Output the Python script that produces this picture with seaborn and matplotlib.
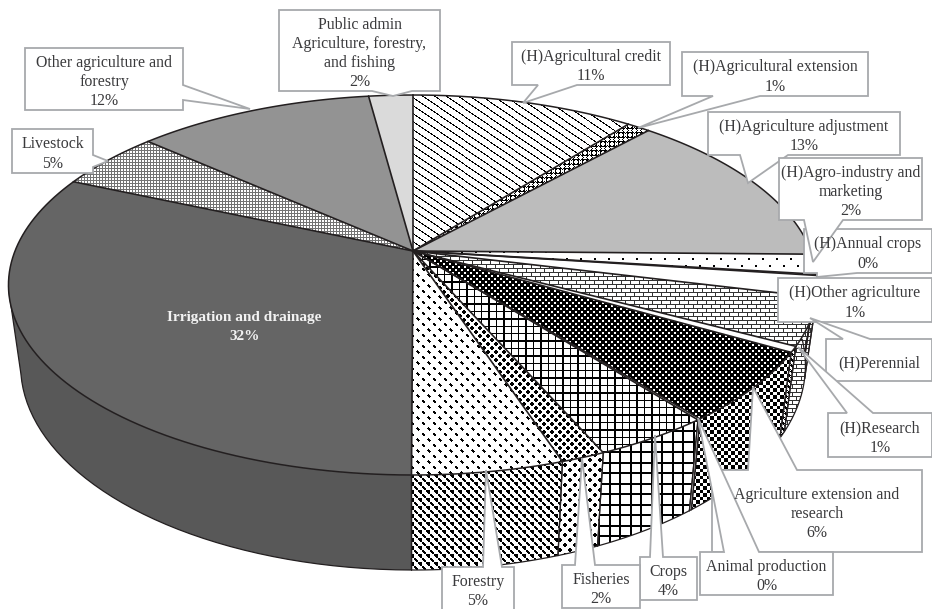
import numpy as np
import matplotlib
matplotlib.use('Agg')
import matplotlib.pyplot as plt
from matplotlib.patches import Polygon
import seaborn as sns

# data, share of the circle, clockwise from 12 o'clock
names = ['(H)Agricultural credit', '(H)Agricultural extension', '(H)Agriculture adjustment',
         '(H)Agro-industry and\nmarketing', '(H)Annual crops', '(H)Other agriculture',
         '(H)Perennial', '(H)Research', 'Agriculture extension and\nresearch',
         'Animal production', 'Crops', 'Fisheries', 'Forestry', 'Irrigation and drainage',
         'Livestock', 'Other agriculture and\nforestry',
         'Public admin\nAgriculture, forestry,\nand fishing']
shares = [10.6, 1.1, 13.6, 1.7, 0.1, 1.8, 4.0, 0.5, 6.0, 0.1, 4.0, 1.5, 5.1, 31.6, 5.0, 11.3, 2.1]
pct_labels = ['11%', '1%', '13%', '2%', '0%', '1%', '', '1%', '6%', '0%', '4%', '2%', '5%',
              '32%', '5%', '12%', '2%']

W, H = 932, 609
sns.set_theme(style='white')
plt.rcParams['font.family'] = ['Liberation Serif', 'DejaVu Serif']

# pixel grid for the fill patterns
yy, xx = np.mgrid[0:H, 0:W]
xx = xx + 0.5
yy = yy + 0.5


def lattice(px, py):
    dx1 = xx % px - px / 2
    dy1 = yy % py - py / 2
    dx2 = (xx + px / 2) % px - px / 2
    dy2 = (yy + py / 2) % py - py / 2
    return dx1, dy1, dx2, dy2


def dots(px, py, r):
    a, b, c, d = lattice(px, py)
    return 1.0 - ((np.hypot(a, b) < r) | (np.hypot(c, d) < r))


def rings(px, py, r):
    a, b, c, d = lattice(px, py)
    d1, d2 = np.hypot(a, b), np.hypot(c, d)
    return 1.0 - ((np.abs(d1 - r) < 0.5) | (np.abs(d2 - r) < 0.5))


def dashes(px, py, half, both=False):
    a, b, c, d = lattice(px, py)
    m = ((np.abs(a - b) < 1.1) & (np.abs(a + b) < half)) | ((np.abs(c - d) < 1.1) & (np.abs(c + d) < half))
    if both:
        m = m | ((np.abs(a + b) < 1.1) & (np.abs(a - b) < half) & (a > 0))
    return 1.0 - m


def grid(p, lw):
    return 1.0 - ((xx % p < lw) | (yy % p < lw))


def checker(p):
    return 1.0 - (((xx // p + yy // p) % 2) == 0)


def diagonal(slope, p, lw):
    return 1.0 - (((yy - slope * xx) % p) < lw)


def bricks(h, w):
    row = (yy // h) % 2
    v = (xx + row * w / 2) % w < 1
    return np.where((yy % h < 1) | v, 0.2, 1.0)


def solid(g):
    return np.full((H, W), g)


top_fill = [diagonal(0.68, 8, 1.3), rings(9, 9, 2.6), solid(0.735), dots(14, 14, 1.2), solid(1.0),
            solid(1.0), bricks(4, 9), solid(1.0), 1.0 - dots(6, 6, 1.2), solid(1.0),
            grid(7.4, 1.3), dots(8, 8, 1.7), dashes(11, 11, 3.0), solid(0.395),
            np.where((xx % 3 < 1) | (yy % 3 < 1), 0.45, 1.0), solid(0.58), solid(0.855)]
side_fill = [diagonal(0.68, 8, 1.3), rings(9, 9, 2.6), solid(0.68), dots(14, 14, 1.2), solid(1.0),
             solid(1.0), bricks(4, 9), dashes(6, 6, 3.0), checker(3.5), solid(1.0),
             grid(10.5, 1.6), dots(10, 10, 2.1), dashes(8, 8, 3.2, both=True), solid(0.345),
             np.where((xx % 3 < 1) | (yy % 3 < 1), 0.45, 1.0), solid(0.5), solid(0.8)]

# perspective disc
APEX_X, APEX_Y = 413, 251
A, B, K = 183.9, 398.0, -0.179
DEPTH, SHRINK = 78.0, 0.97


def top_xy(t):
    u, v = np.sin(t), -np.cos(t)
    f = 1 + K * v
    return APEX_X + B * u / f, APEX_Y + A * v / f


def bottom_xy(t):
    x, y = top_xy(t)
    v = -np.cos(t)
    return APEX_X + SHRINK * (x - APEX_X), y + DEPTH / (1 + K * v)


fig = plt.figure(figsize=(W / 100, H / 100), dpi=100)
ax = fig.add_axes([0, 0, 1, 1])
ax.set_axis_off()

INK = '#231f20'
fracs = np.array(shares) / sum(shares)
edges = np.concatenate([[0], np.cumsum(fracs)]) * 2 * np.pi


def textured(poly_xy, gray, z):
    patch = Polygon(poly_xy, closed=True, facecolor='none', edgecolor='none', zorder=z)
    ax.add_patch(patch)
    im = ax.imshow(gray, cmap='gray', vmin=0, vmax=1, extent=(0, W, H, 0), aspect='auto',
                   interpolation='nearest', zorder=z)
    im.set_clip_path(patch)


# side wall first
for i in range(len(shares)):
    t = np.linspace(edges[i], edges[i + 1], 60)
    t = t[-np.cos(t) > -0.3]
    if len(t) < 2:
        continue
    tx, ty = top_xy(t)
    bx, by = bottom_xy(t)
    poly = np.column_stack([np.r_[tx, bx[::-1]], np.r_[ty, by[::-1]]])
    textured(poly, side_fill[i], 1)
    # bottom rim only where it is the outline of the wall
    keep = -np.cos(t) > np.where(np.sin(t) < 0, 0.22, 0.05)
    if keep.sum() > 1:
        ax.plot(bx[keep], by[keep], color=INK, lw=0.9, zorder=2)
    for edge in (edges[i], edges[i + 1]):
        if -np.cos(edge) > 0:
            ex, ey = top_xy(edge)
            fx, fy = bottom_xy(edge)
            ax.plot([ex, fx], [ey, fy], color=INK, lw=0.9, zorder=2)

# straight silhouette of the wall on the left, top rim to bottom rim
t_top, t_bot = 1.5 * np.pi - 0.2, 1.5 * np.pi - 0.22
p_top, p_bot = top_xy(t_top), bottom_xy(t_bot)
p_in = top_xy(1.5 * np.pi - 0.5)
textured(np.array([p_top, p_bot, p_in]), side_fill[13], 1.5)
ax.plot([p_top[0], p_bot[0]], [p_top[1], p_bot[1]], color=INK, lw=0.9, zorder=2)

# top face
for i in range(len(shares)):
    t = np.linspace(edges[i], edges[i + 1], 80)
    tx, ty = top_xy(t)
    poly = np.column_stack([np.r_[APEX_X, tx], np.r_[APEX_Y, ty]])
    textured(poly, top_fill[i], 3)
for i in range(len(shares)):
    t = np.linspace(edges[i], edges[i + 1], 80)
    tx, ty = top_xy(t)
    ax.plot(tx, ty, color=INK, lw=1.1, zorder=4)
    ax.plot([APEX_X, tx[0]], [APEX_Y, ty[0]], color=INK, lw=1.2, zorder=4)

# callouts: label index, box (x0, y0, x1, y1), pointer side, pointer base, pointer tip
callouts = [
    (16, (279, 10, 440, 91), 'bottom', (372, 412), (393, 96)),
    (15, (25, 48, 183, 110), 'right', (85, 100), (250, 109)),
    (14, (12, 129, 93, 173), 'right', (155, 167), (108, 161)),
    (0, (512, 42, 670, 85), 'bottom', (538, 577), (523, 103)),
    (1, (682, 52, 868, 96), 'bottom', (713, 760), (638, 128)),
    (2, (708, 112, 900, 155), 'bottom', (740, 788), (748, 183)),
    (4, (804, 229, 932, 273), 'bottom', (817, 857), (817, 277)),
    (3, (779, 158, 922, 220), 'bottom', (804, 843), (813, 262)),
    (5, (778, 278, 932, 322), None, None, None),
    (6, (826, 339, 932, 381), 'top', (843, 870), (810, 318)),
    (7, (828, 413, 932, 457), 'top', (847, 873), (798, 347)),
    (8, (712, 470, 922, 552), 'top', (748, 797), (753, 387)),
    (9, (700, 552, 833, 595), 'top', (724, 759), (698, 418)),
    (10, (640, 557, 697, 600), 'top', (650, 663), (655, 435)),
    (11, (562, 565, 640, 608), 'top', (575, 595), (582, 458)),
    (12, (442, 567, 514, 610), 'top', (483, 502), (486, 470)),
]


def callout_shape(box, side, base, tip):
    x0, y0, x1, y1 = box
    pts = [(x0, y0)]
    if side == 'top':
        pts += [(base[0], y0), tip, (base[1], y0)]
    pts.append((x1, y0))
    if side == 'right':
        pts += [(x1, base[0]), tip, (x1, base[1])]
    pts.append((x1, y1))
    if side == 'bottom':
        pts += [(base[1], y1), tip, (base[0], y1)]
    pts.append((x0, y1))
    return pts


z = 6
for idx, box, side, base, tip in callouts:
    ax.add_patch(Polygon(callout_shape(box, side, base, tip), closed=True, facecolor='white',
                         edgecolor='#a7a9ac', lw=1.3, zorder=z))
    z += 0.01
    text = names[idx] + ('\n' + pct_labels[idx] if pct_labels[idx] else '')
    ax.text((box[0] + box[2]) / 2, (box[1] + box[3]) / 2 + 3, text, ha='center', va='center',
            multialignment='center', fontsize=11.4, color='#3a3a3c', linespacing=1.27, zorder=20)

ax.text(244.5, 327, names[13] + '\n' + pct_labels[13], ha='center', va='center', color='#f2f2f2',
        fontsize=11, fontweight='bold', linespacing=1.55, zorder=20)

ax.set_xlim(0, W)
ax.set_ylim(H, 0)
fig.savefig('out.png', dpi=100)
